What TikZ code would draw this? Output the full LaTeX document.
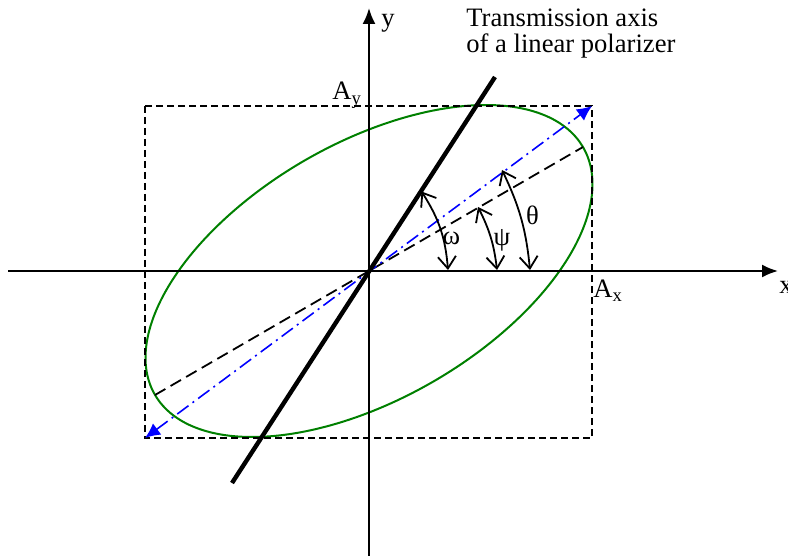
\documentclass[tikz,border=0pt]{standalone}
\usepackage{fontspec}
\setmainfont{Liberation Serif}
\usetikzlibrary{arrows.meta}
\definecolor{elgreen}{RGB}{0,128,0}
\definecolor{dblue}{RGB}{0,0,255}
\begin{document}
\begin{tikzpicture}[x=0.5pt,y=-0.5pt,
  lbl/.style={inner sep=0pt,font=\fontsize{13.3}{13.3}\selectfont},
  axisline/.style={line width=1pt,-{Latex[length=8pt,width=6.5pt]}},
  boxdash/.style={line width=0.9pt,dash pattern=on 3.5pt off 2pt},
  majdash/.style={line width=0.9pt,dash pattern=on 6pt off 3pt},
  diag/.style={dblue,line width=0.8pt,dash pattern=on 7pt off 2.5pt on 1pt off 2.5pt,
    {Latex[length=7.5pt,width=7pt]}-{Latex[length=7.5pt,width=7pt]}},
  polline/.style={line width=2.2pt},
  ellline/.style={elgreen,line width=1pt},
  anglearr/.style={line width=0.9pt,{Straight Barb[length=6pt,width=9pt]}-{Straight Barb[length=6pt,width=9pt]}}]
\useasboundingbox (0,0) rectangle (788,556);
% coordinates
\coordinate (O) at (369,271);
\coordinate (xl) at (8,271);
\coordinate (xr) at (778,271);
\coordinate (yb) at (369,556);
\coordinate (yt) at (369,8);
\coordinate (r1) at (145,106);
\coordinate (r2) at (592,438);
\coordinate (dl) at (145,438);
\coordinate (dr) at (592,106);
\coordinate (pl) at (232,483);
\coordinate (pu) at (495,77);
\coordinate (ml) at (155,395);
\coordinate (mu) at (583,147);
% ellipse
\draw[ellline] plot[domain=0:360,samples=120,smooth cycle,variable=\t]
  ({369+247.3*cos(\t)*cos(30)-127.9*sin(\t)*sin(30)},
   {271-(247.3*cos(\t)*sin(30)+127.9*sin(\t)*cos(30))});
% rectangle
\draw[boxdash] (r1) rectangle (r2);
% axes
\draw[axisline] (xl) -- (xr);
\draw[axisline] (yb) -- (yt);
% lines
\draw[majdash] (ml) -- (mu);
\draw[diag] (dl) -- (dr);
\draw[polline] (pl) -- (pu);
% angle arrows
\coordinate (wt) at (421.5,191.5);
\coordinate (wb) at (448,270);
\coordinate (pt) at (478,207);
\coordinate (pb) at (497,270);
\coordinate (tt) at (502,170);
\coordinate (tb) at (530,270);
\draw[anglearr] (wt) to[bend left=14] (wb);
\draw[anglearr] (pt) to[bend left=10] (pb);
\draw[anglearr] (tt) to[bend left=10] (tb);
% labels
\node[lbl,anchor=center] (lw) at (451.5,238.5) {ω};
\node[lbl,anchor=center] (lp) at (502,240) {ψ};
\node[lbl,anchor=center] (lt) at (532.5,215) {θ};
\node[lbl,anchor=base west] (ly) at (381,27) {y};
\node[lbl,anchor=base west] (lx) at (779,293) {x};
\node[lbl,anchor=base west] (lay) at (332,100) {A\textsubscript{y}};
\node[lbl,anchor=base west] (lax) at (593,297) {A\textsubscript{x}};
\node[lbl,anchor=base west] (t1) at (466,27) {Transmission axis};
\node[lbl,anchor=base west] (t2) at (466,53) {of a linear polarizer};
\end{tikzpicture}
\end{document}
